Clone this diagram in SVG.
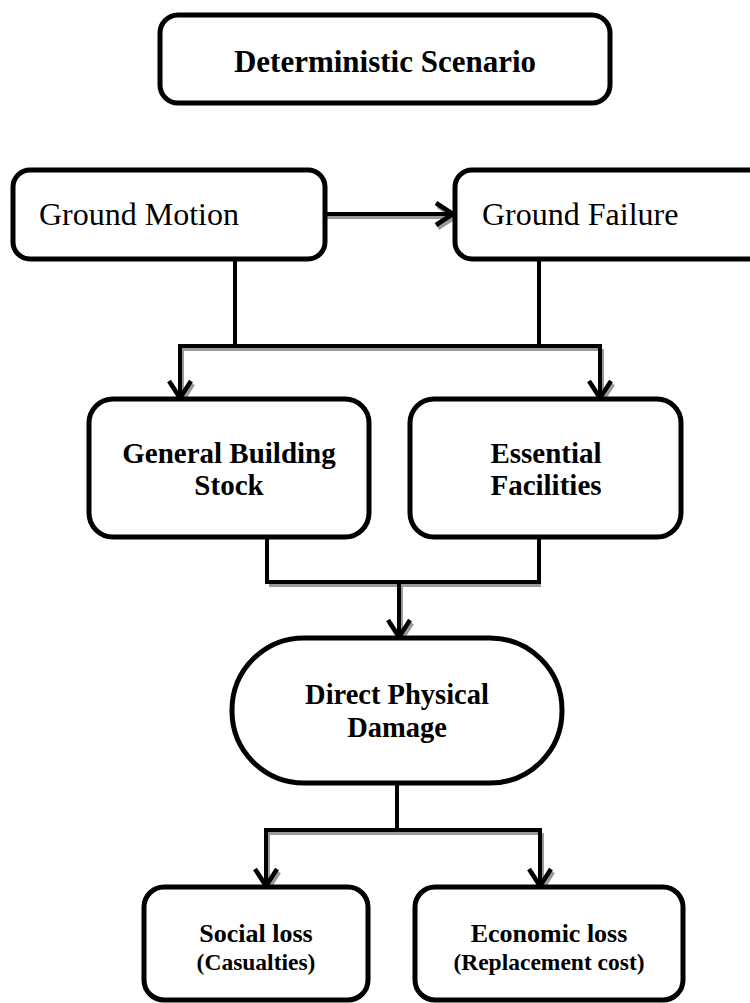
<svg xmlns="http://www.w3.org/2000/svg" width="750" height="1003" viewBox="0 0 750 1003">
<style>
.box{fill:#fff;stroke:#000;stroke-width:5}
text{font-family:'Liberation Serif','Times New Roman','DejaVu Serif',serif;fill:#000;text-anchor:middle}
.b{font-weight:bold}
.c{fill:none;stroke:#000;stroke-width:4}
.s{fill:none;stroke:#9a9a9a;stroke-width:4}
</style>
<defs>
<marker id="ah" viewBox="0 0 24 26" refX="21" refY="13" markerWidth="24" markerHeight="26" markerUnits="userSpaceOnUse" orient="auto">
<path d="M4,2 L21,13 L4,24" fill="none" stroke="#000" stroke-width="4.5"/>
</marker>
<marker id="ahs" viewBox="0 0 24 26" refX="21" refY="13" markerWidth="24" markerHeight="26" markerUnits="userSpaceOnUse" orient="auto">
<path d="M4,2 L21,13 L4,24" fill="none" stroke="#9a9a9a" stroke-width="4.5"/>
</marker>
</defs>
<g id="connectors">
<g transform="translate(2,3)">
<path class="s" d="M325,214 H453" marker-end="url(#ahs)"/>
<path class="s" d="M180,346 H600"/>
<path class="s" d="M180,346 V398" marker-end="url(#ahs)"/>
<path class="s" d="M600,346 V398" marker-end="url(#ahs)"/>
<path class="s" d="M267,582 H539"/>
<path class="s" d="M399,582 V637" marker-end="url(#ahs)"/>
<path class="s" d="M266,830 H540"/>
<path class="s" d="M266,830 V886" marker-end="url(#ahs)"/>
<path class="s" d="M540,830 V886" marker-end="url(#ahs)"/>
</g>
<path class="c" d="M325,214 H453" marker-end="url(#ah)"/>
<path class="c" d="M235,259 V346"/>
<path class="c" d="M539,259 V346"/>
<path class="c" d="M178,346 H602"/>
<path class="c" d="M180,346 V398" marker-end="url(#ah)"/>
<path class="c" d="M600,346 V398" marker-end="url(#ah)"/>
<path class="c" d="M267,537 V582 H539 V537"/>
<path class="c" d="M399,582 V637" marker-end="url(#ah)"/>
<path class="c" d="M397,783 V830"/>
<path class="c" d="M264,830 H542"/>
<path class="c" d="M266,830 V886" marker-end="url(#ah)"/>
<path class="c" d="M540,830 V886" marker-end="url(#ah)"/>
</g>
<g id="title">
<rect class="box" x="160" y="15" width="450" height="88" rx="18"/>
<text class="b" x="385" y="72" font-size="31" font-family="Liberation Serif">Deterministic Scenario</text>
</g>
<g id="ground-motion">
<rect class="box" x="13" y="170" width="312" height="89" rx="17"/>
<text x="39" y="225" font-size="32" font-family="Liberation Serif" style="text-anchor:start">Ground Motion</text>
</g>
<g id="ground-failure">
<rect class="box" x="455" y="170" width="310" height="89" rx="17"/>
<text x="482" y="225" font-size="32" font-family="Liberation Serif" style="text-anchor:start">Ground Failure</text>
</g>
<g id="general-building-stock">
<rect class="box" x="89" y="399" width="280" height="138" rx="24"/>
<text class="b" x="229" y="463" font-size="29" font-family="Liberation Serif">General Building</text>
<text class="b" x="229" y="495" font-size="29" font-family="Liberation Serif">Stock</text>
</g>
<g id="essential-facilities">
<rect class="box" x="410" y="399" width="271" height="138" rx="24"/>
<text class="b" x="546" y="463" font-size="29" font-family="Liberation Serif">Essential</text>
<text class="b" x="546" y="495" font-size="29" font-family="Liberation Serif">Facilities</text>
</g>
<g id="direct-physical-damage">
<rect class="box" x="232" y="638" width="330" height="145" rx="72" ry="72"/>
<text class="b" x="397" y="704" font-size="28.5" font-family="Liberation Serif">Direct Physical</text>
<text class="b" x="397" y="737" font-size="28.5" font-family="Liberation Serif">Damage</text>
</g>
<g id="social-loss">
<rect class="box" x="144" y="887" width="224" height="113" rx="20"/>
<text class="b" x="256" y="942" font-size="26" font-family="Liberation Serif">Social loss</text>
<text class="b" x="256" y="970" font-size="23.5" font-family="Liberation Serif">(Casualties)</text>
</g>
<g id="economic-loss">
<rect class="box" x="415" y="887" width="268" height="113" rx="20"/>
<text class="b" x="549" y="942" font-size="26" font-family="Liberation Serif">Economic loss</text>
<text class="b" x="549" y="970" font-size="23.5" font-family="Liberation Serif">(Replacement cost)</text>
</g>
</svg>
